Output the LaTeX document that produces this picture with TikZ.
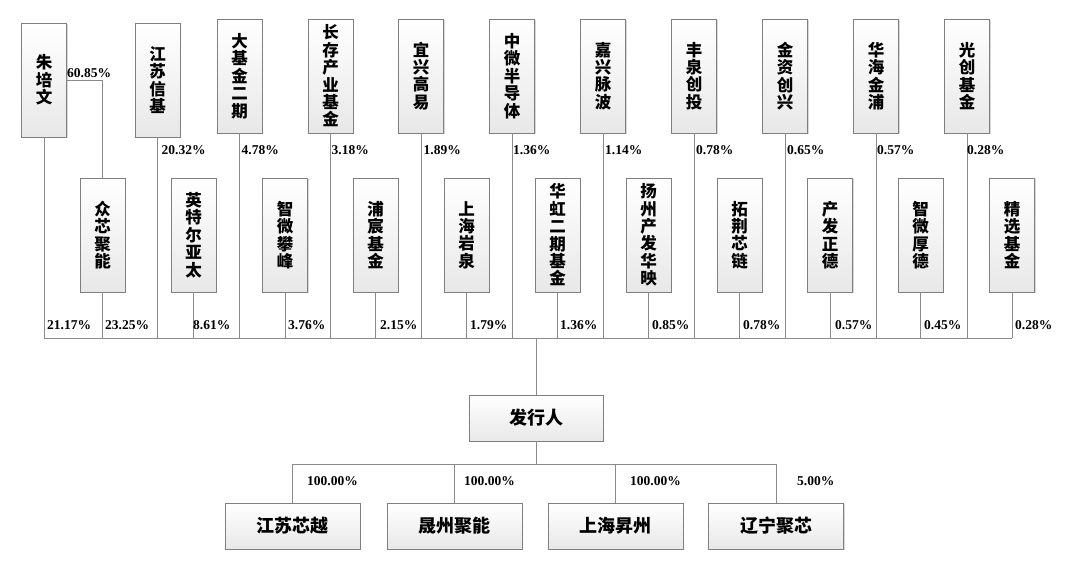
\documentclass[tikz,border=0pt]{standalone}
\usepackage{fontspec}
\setmainfont{Liberation Serif}
\newfontfamily\cjk{Noto Sans CJK SC}
\usetikzlibrary{shadows}
\definecolor{boxline}{HTML}{7F7F7F}
\definecolor{wire}{HTML}{8A8A8A}
\tikzset{
  vbox/.style={draw=boxline, line width=.9pt, top color=white, bottom color=black!9,
    drop shadow={shadow xshift=1.2pt, shadow yshift=-1.2pt, opacity=.3},
    minimum width=45, minimum height=114, inner sep=0pt, align=center,
    font=\cjk\bfseries\fontsize{16.5}{17.4}\selectfont},
  hbox/.style={vbox, minimum width=135, minimum height=46,
    font=\cjk\bfseries\fontsize{18}{20}\selectfont},
  pct/.style={anchor=west, inner sep=1pt, font=\bfseries\fontsize{13.5}{15}\selectfont},
  wire/.style={draw=wire, line width=.9pt}
}
\begin{document}
\begin{tikzpicture}[x=1pt, y=-1pt]
  \path[use as bounding box, fill=white] (0,0) rectangle (1080,565);
  % shareholders, upper row
  \node[vbox] (s1) at (44,80) {朱\\培\\文}; \node[vbox] (s2) at (157.5,80) {江\\苏\\信\\基};
  \node[vbox] (s3) at (239.5,76) {大\\基\\金\\二\\期};
  \node[vbox] (s4) at (330.5,76) {长\\存\\产\\业\\基\\金};
  \node[vbox] (s5) at (421,76) {宜\\兴\\高\\易}; \node[vbox] (s6) at (512,76) {中\\微\\半\\导\\体};
  \node[vbox] (s7) at (603,76) {嘉\\兴\\脉\\波}; \node[vbox] (s8) at (694,76) {丰\\泉\\创\\投};
  \node[vbox] (s9) at (785,76) {金\\资\\创\\兴}; \node[vbox] (s10) at (876,76) {华\\海\\金\\浦};
  \node[vbox] (s11) at (967,76) {光\\创\\基\\金};
  % shareholders, lower row
  \node[vbox] (h1) at (102.5,235) {众\\芯\\聚\\能}; \node[vbox] (h2) at (193.5,235) {英\\特\\尔\\亚\\太};
  \node[vbox] (h3) at (285,235) {智\\微\\攀\\峰}; \node[vbox] (h4) at (375.5,235) {浦\\宸\\基\\金};
  \node[vbox] (h5) at (466.5,235) {上\\海\\岩\\泉};
  \node[vbox] (h6) at (557.5,235) {华\\虹\\二\\期\\基\\金};
  \node[vbox] (h7) at (648.5,235) {扬\\州\\产\\发\\华\\映};
  \node[vbox] (h8) at (739.5,235) {拓\\荆\\芯\\链}; \node[vbox] (h9) at (830,235) {产\\发\\正\\德};
  \node[vbox] (h10) at (920.5,235) {智\\微\\厚\\德}; \node[vbox] (h11) at (1012,235) {精\\选\\基\\金};
  % issuer and subsidiaries
  \node[hbox, minimum width=134] (fx) at (536,418) {发行人};
  \node[hbox] (c1) at (292.5,526) {江苏芯越}; \node[hbox] (c2) at (454.5,526) {晟州聚能};
  \node[hbox] (c3) at (615.5,526) {上海昇州}; \node[hbox] (c4) at (776,526) {辽宁聚芯};
  \coordinate (bus) at (536,338); \coordinate (sub) at (536,464);
  % connectors
  \draw[wire] (s1.south) -- (s1 |- bus) -- (h11 |- bus);
  \draw[wire] (s1.east) -- (s1.east -| h1) -- (h1.north);
  \draw[wire] (s2.south) -- (s2 |- bus); \draw[wire] (s3.south) -- (s3 |- bus);
  \draw[wire] (s4.south) -- (s4 |- bus); \draw[wire] (s5.south) -- (s5 |- bus);
  \draw[wire] (s6.south) -- (s6 |- bus); \draw[wire] (s7.south) -- (s7 |- bus);
  \draw[wire] (s8.south) -- (s8 |- bus); \draw[wire] (s9.south) -- (s9 |- bus);
  \draw[wire] (s10.south) -- (s10 |- bus); \draw[wire] (s11.south) -- (s11 |- bus);
  \draw[wire] (h1.south) -- (h1 |- bus); \draw[wire] (h2.south) -- (h2 |- bus);
  \draw[wire] (h3.south) -- (h3 |- bus); \draw[wire] (h4.south) -- (h4 |- bus);
  \draw[wire] (h5.south) -- (h5 |- bus); \draw[wire] (h6.south) -- (h6 |- bus);
  \draw[wire] (h7.south) -- (h7 |- bus); \draw[wire] (h8.south) -- (h8 |- bus);
  \draw[wire] (h9.south) -- (h9 |- bus); \draw[wire] (h10.south) -- (h10 |- bus);
  \draw[wire] (h11.south) -- (h11 |- bus);
  \draw[wire] (bus) -- (fx.north); \draw[wire] (fx.south) -- (sub);
  \draw[wire] (c1.north) -- (c1 |- sub) -- (c4 |- sub) -- (c4.north);
  \draw[wire] (c2.north) -- (c2 |- sub); \draw[wire] (c3.north) -- (c3 |- sub);
  % percentages
  \node[pct, anchor=south west] (p0) at (66,79) {60.85\%};
  \node[pct] (p2) at (160.5,150) {20.32\%}; \node[pct] (p3) at (240.5,150) {4.78\%};
  \node[pct] (p4) at (330.5,150) {3.18\%}; \node[pct] (p5) at (422.5,150) {1.89\%};
  \node[pct] (p6) at (512,150) {1.36\%}; \node[pct] (p7) at (604,150) {1.14\%};
  \node[pct] (p8) at (695,150) {0.78\%}; \node[pct] (p9) at (786,150) {0.65\%};
  \node[pct] (p10) at (876,150) {0.57\%}; \node[pct] (p11) at (966,150) {0.28\%};
  \node[pct] (p1) at (46,325) {21.17\%}; \node[pct] (q1) at (104,325) {23.25\%};
  \node[pct] (q2) at (192,325) {8.61\%}; \node[pct] (q3) at (287,325) {3.76\%};
  \node[pct] (q4) at (379,325) {2.15\%}; \node[pct] (q5) at (469,325) {1.79\%};
  \node[pct] (q6) at (559,325) {1.36\%}; \node[pct] (q7) at (651,325) {0.85\%};
  \node[pct] (q8) at (742,325) {0.78\%}; \node[pct] (q9) at (834,325) {0.57\%};
  \node[pct] (q10) at (923,325) {0.45\%}; \node[pct] (q11) at (1014,325) {0.28\%};
  \node[pct] (r1) at (306,481) {100.00\%}; \node[pct] (r2) at (463,481) {100.00\%};
  \node[pct] (r3) at (629,481) {100.00\%}; \node[pct] (r4) at (796,481) {5.00\%};
\end{tikzpicture}
\end{document}
